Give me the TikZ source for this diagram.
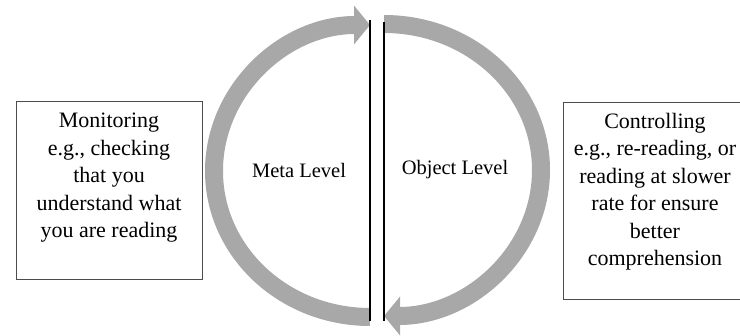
\documentclass[tikz,border=0pt]{standalone}
\usepackage{fontspec}
\setmainfont{Liberation Serif}
\usepackage{xcolor}
\usetikzlibrary{arrows.meta,positioning}
\definecolor{cyclegray}{RGB}{168,168,168}

\begin{document}
\begin{tikzpicture}[x=1pt,y=-1pt,
    box/.style={draw=black!70,line width=1.3pt,anchor=north west},
    txt/.style={font=\fontsize{22}{27.5}\selectfont,align=center,inner sep=0pt,anchor=north},
    level/.style={font=\fontsize{20.5}{25}\selectfont,inner sep=0pt},
    cyclearc/.style={draw=cyclegray,line width=18pt,-{Triangle[width=38pt,length=16pt]}},
    bar/.style={line width=2.8pt}]
    \useasboundingbox (0,0) rectangle (740,336);
    \node[box,minimum width=186pt,minimum height=178pt] (monbox) at (16,101) {};
    \node[txt] (monitor) at (109,113) {Monitoring\\e.g., checking\\that you\\understand what\\you are reading};
    \node[box,minimum width=186pt,minimum height=197pt] (ctrlbox) at (563,102) {};
    \node[txt] (control) at (655,113) {Controlling\\e.g., re-reading, or\\reading at slower\\rate for ensure\\better\\comprehension};
    \node[level] (meta)   at (299,170) {Meta Level};
    \node[level] (object) at (455,170) {Object Level};
    \coordinate (metabot) at (370,317);
    \coordinate (objtop)  at (384,24);
    \draw[cyclearc] (metabot) arc[start angle=90,end angle=270,x radius=156,y radius=146];
    \draw[cyclearc] (objtop) arc[start angle=270,end angle=450,x radius=157,y radius=146];
    \coordinate (ltop) at (370,20);
    \coordinate (lbot) at (370,321);
    \coordinate (rtop) at (384,22);
    \coordinate (rbot) at (384,321);
    \draw[bar] (ltop) -- (lbot);
    \draw[bar] (rtop) -- (rbot);
\end{tikzpicture}
\end{document}
